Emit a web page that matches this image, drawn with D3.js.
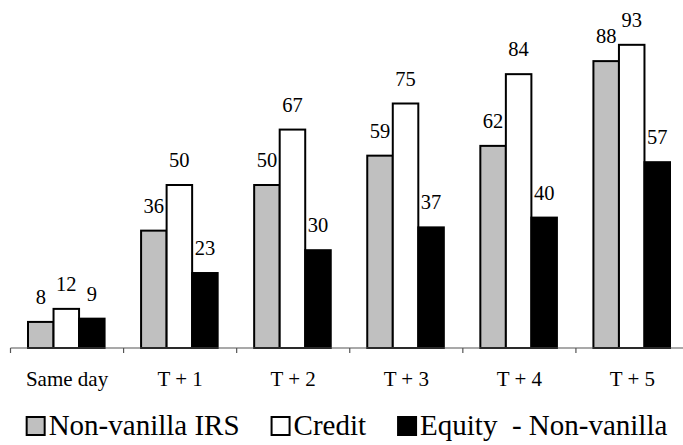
<!DOCTYPE html>
<html>
<head>
<meta charset="utf-8">
<script src="https://cdn.jsdelivr.net/npm/d3@7"></script>
</head>
<body style="margin:0;background:#fff">
<svg id="chart" width="683" height="445" style="display:block;font-family:'Times New Roman','Liberation Serif',Tinos"></svg>
<script>
// Settlement timing by product type (%)
const categories = ["Same day", "T + 1", "T + 2", "T + 3", "T + 4", "T + 5"];
const seriesNames = ["Non-vanilla IRS", "Credit", "Equity  - Non-vanilla"];
const irsValues = [8, 36, 50, 59, 62, 88];
const creditValues = [12, 50, 67, 75, 84, 93];
const equityValues = [9, 23, 30, 37, 40, 57];
const seriesFills = ["#c0c0c0", "#ffffff", "#000000"];

const FONT = "'Times New Roman'";
const svg = d3.select("#chart");
const W = 683;

const x0 = d3.scaleBand().domain(categories).range([10.5, 689]).paddingInner(0).paddingOuter(0);
const x1 = d3.scaleBand().domain(d3.range(3)).range([17.5, x0.bandwidth() - 19]).padding(0);
const y = d3.scaleLinear().domain([0, 100]).range([348, 22]);

const seriesValues = [irsValues, creditValues, equityValues];
const rows = categories.map((c, i) => ({
  cat: c,
  vals: seriesValues.map((s, k) => ({ k, v: s[i] }))
}));

// bars
const groups = svg.append("g").selectAll("g").data(rows).join("g")
  .attr("transform", d => `translate(${x0(d.cat)},0)`);

groups.selectAll("rect").data(d => d.vals).join("rect")
  .attr("x", d => x1(d.k))
  .attr("y", d => y(d.v))
  .attr("width", x1.bandwidth())
  .attr("height", d => y(0) - y(d.v))
  .attr("fill", d => seriesFills[d.k])
  .attr("stroke", "#000")
  .attr("stroke-width", 2);

// value labels
groups.selectAll("text").data(d => d.vals).join("text")
  .attr("x", d => x1(d.k) + x1.bandwidth() / 2)
  .attr("y", d => y(d.v) - 18)
  .attr("text-anchor", "middle")
  .attr("font-size", 20.5)
  .style("font-family", FONT)
  .attr("fill", "#000")
  .text(d => d.v);

// category axis
const axisY = y(0);
const axisG = svg.append("g");
axisG.append("line")
  .attr("x1", x0.range()[0]).attr("x2", W)
  .attr("y1", axisY).attr("y2", axisY)
  .attr("stroke", "#555").attr("stroke-width", 1.2);
axisG.selectAll("line.tick").data(categories).join("line")
  .attr("class", "tick")
  .attr("x1", d => x0(d)).attr("x2", d => x0(d))
  .attr("y1", axisY).attr("y2", axisY + 5)
  .attr("stroke", "#555").attr("stroke-width", 1.2);
axisG.selectAll("text").data(categories).join("text")
  .attr("x", d => x0(d) + x0.bandwidth() / 2)
  .attr("y", 386)
  .attr("text-anchor", "middle")
  .attr("font-size", 21)
  .style("font-family", FONT)
  .text(d => d);

// legend, centred under the plot
const legend = svg.append("g");
const legendBase = 435, sw = 18, gap = 32;
let lx = 0;
seriesNames.forEach((name, k) => {
  legend.append("rect")
    .attr("x", lx).attr("y", legendBase - sw)
    .attr("width", sw).attr("height", sw)
    .attr("fill", seriesFills[k])
    .attr("stroke", "#000").attr("stroke-width", 2);
  const t = legend.append("text")
    .attr("x", lx + sw + 4).attr("y", legendBase)
    .attr("font-size", 29)
    .style("font-family", FONT)
    .style("white-space", "pre")
    .text(name);
  lx += sw + 4 + t.node().getComputedTextLength() + gap;
});
const legendWidth = lx - gap;
legend.attr("transform", `translate(${347 - legendWidth / 2},0)`);
</script>
</body>
</html>
